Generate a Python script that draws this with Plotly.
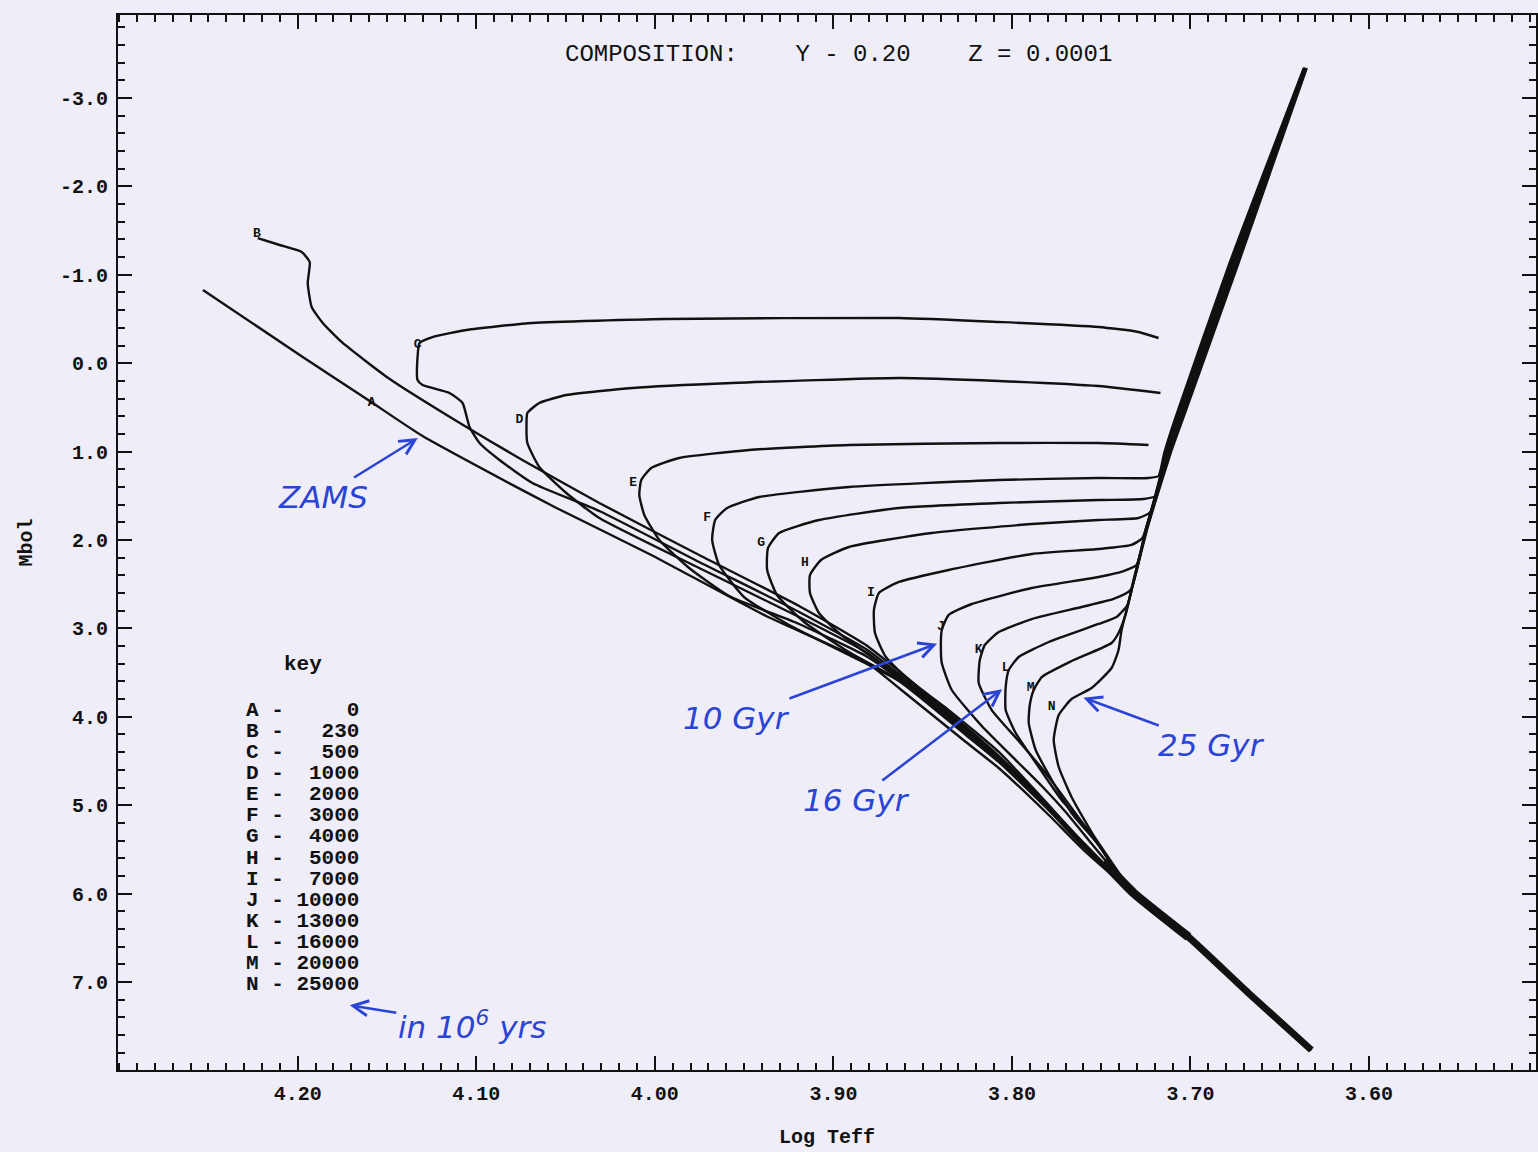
import plotly.graph_objects as go

# ---------------- data (Log Teff, Mbol) ----------------
letters = ["A", "B", "C", "D", "E", "F", "G", "H", "I", "J", "K", "L", "M", "N"]
ages = [0, 230, 500, 1000, 2000, 3000, 4000, 5000, 7000, 10000, 13000, 16000, 20000, 25000]

teff_A = [4.2531, 4.1989, 4.1597, 4.1301, 4.0870, 4.0551, 4.0031, 3.9377, 3.8818, 3.8633, 3.8258, 3.8074, 3.7794, 3.7598]
mbol_A = [-0.828, -0.093, 0.428, 0.824, 1.299, 1.638, 2.158, 2.860, 3.380, 3.674, 4.285, 4.579, 5.111, 5.507]

teff_B = [4.2224, 4.2101, 4.1978, 4.1933, 4.1944, 4.1922, 4.1860, 4.1748, 4.1485, 4.1111, 4.0742, 4.0311, 3.9752, 3.9192, 3.8818, 3.8633, 3.8258, 3.8074, 3.7794, 3.7598]
mbol_B = [-1.416, -1.337, -1.258, -1.145, -0.907, -0.636, -0.455, -0.229, 0.179, 0.654, 1.095, 1.581, 2.170, 2.747, 3.188, 3.482, 4.115, 4.443, 5.009, 5.427]

teff_C = [3.7179, 3.7291, 3.7515, 3.8074, 3.8633, 3.9936, 4.0686, 4.1055, 4.1245, 4.1318, 4.1329, 4.1329, 4.1301, 4.1150, 4.1077, 4.1038, 4.0982, 4.0870, 4.0686, 4.0311, 3.9752, 3.9192, 3.8818, 3.8633, 3.8258, 3.8074, 3.7794, 3.7598]
mbol_C = [-0.285, -0.353, -0.410, -0.466, -0.511, -0.500, -0.455, -0.376, -0.296, -0.229, -0.070, 0.190, 0.247, 0.337, 0.450, 0.722, 0.903, 1.095, 1.355, 1.672, 2.249, 2.814, 3.233, 3.516, 4.138, 4.466, 5.020, 5.439]

teff_D = [3.7168, 3.7515, 3.8074, 3.8633, 3.9567, 4.0126, 4.0496, 4.0647, 4.0714, 4.0719, 4.0714, 4.0647, 4.0496, 4.0311, 3.9752, 3.9192, 3.8818, 3.8633, 3.8258, 3.8074, 3.7794, 3.7598]
mbol_D = [0.337, 0.258, 0.201, 0.167, 0.224, 0.280, 0.360, 0.450, 0.563, 0.722, 0.903, 1.174, 1.468, 1.751, 2.317, 2.871, 3.267, 3.550, 4.161, 4.477, 5.032, 5.450]

teff_E = [3.7235, 3.7515, 3.8074, 3.8913, 3.9472, 3.9864, 4.0020, 4.0076, 4.0087, 4.0059, 3.9975, 3.9808, 3.9584, 3.9192, 3.8818, 3.8633, 3.8258, 3.8074, 3.7794, 3.7598]
mbol_E = [0.925, 0.903, 0.903, 0.925, 0.982, 1.072, 1.185, 1.321, 1.491, 1.717, 2.000, 2.317, 2.633, 2.950, 3.312, 3.572, 4.183, 4.489, 5.043, 5.461]

teff_F = [3.6365, 3.6785, 3.7089, 3.7147, 3.7179, 3.7235, 3.7515, 3.8074, 3.8913, 3.9416, 3.9595, 3.9662, 3.9679, 3.9640, 3.9500, 3.9248, 3.8913, 3.8633, 3.8258, 3.8074, 3.7794, 3.7598]
mbol_F = [-3.339, -1.111, 0.643, 1.016, 1.276, 1.299, 1.299, 1.321, 1.400, 1.514, 1.638, 1.774, 2.000, 2.283, 2.645, 2.961, 3.301, 3.595, 4.206, 4.511, 5.054, 5.473]

teff_G = [3.6363, 3.6779, 3.7084, 3.7143, 3.7196, 3.7263, 3.7515, 3.8074, 3.8633, 3.9081, 3.9304, 3.9366, 3.9371, 3.9316, 3.9164, 3.8913, 3.8633, 3.8258, 3.8074, 3.7794, 3.7598]
mbol_G = [-3.339, -1.111, 0.643, 1.016, 1.502, 1.536, 1.548, 1.581, 1.638, 1.774, 1.921, 2.090, 2.339, 2.622, 2.927, 3.267, 3.584, 4.194, 4.500, 5.054, 5.473]

teff_H = [3.6361, 3.6772, 3.7078, 3.7138, 3.7224, 3.7291, 3.7515, 3.7889, 3.8449, 3.8913, 3.9069, 3.9131, 3.9131, 3.9081, 3.8969, 3.8801, 3.8577, 3.8258, 3.8074, 3.7794, 3.7598]
mbol_H = [-3.339, -1.111, 0.643, 1.016, 1.683, 1.751, 1.774, 1.819, 1.921, 2.079, 2.226, 2.396, 2.599, 2.826, 3.052, 3.301, 3.618, 4.183, 4.489, 5.043, 5.461]

teff_I = [3.6359, 3.6766, 3.7073, 3.7134, 3.7209, 3.7269, 3.7330, 3.7515, 3.7889, 3.8354, 3.8633, 3.8745, 3.8773, 3.8767, 3.8706, 3.8577, 3.8354, 3.8074, 3.7794, 3.7598]
mbol_I = [-3.339, -1.111, 0.643, 1.016, 1.581, 1.977, 2.056, 2.102, 2.158, 2.339, 2.475, 2.599, 2.792, 3.052, 3.324, 3.584, 3.924, 4.398, 4.998, 5.439]

teff_J = [3.6357, 3.6760, 3.7067, 3.7129, 3.7207, 3.7252, 3.7302, 3.7375, 3.7515, 3.7889, 3.8225, 3.8354, 3.8393, 3.8398, 3.8393, 3.8337, 3.8169, 3.7979, 3.7833, 3.7699, 3.7571]
mbol_J = [-3.339, -1.111, 0.643, 1.016, 1.581, 1.887, 2.283, 2.351, 2.418, 2.543, 2.724, 2.848, 3.018, 3.188, 3.392, 3.697, 4.104, 4.489, 4.783, 5.077, 5.394]

teff_K = [3.6355, 3.6754, 3.7061, 3.7125, 3.7205, 3.7250, 3.7336, 3.7431, 3.7610, 3.7889, 3.8074, 3.8152, 3.8180, 3.8186, 3.8113, 3.7962, 3.7811, 3.7699, 3.7543]
mbol_K = [-3.339, -1.111, 0.643, 1.016, 1.581, 1.887, 2.566, 2.667, 2.758, 2.894, 3.041, 3.188, 3.358, 3.618, 3.924, 4.274, 4.636, 4.941, 5.371]

teff_L = [3.6353, 3.6748, 3.7056, 3.7120, 3.7203, 3.7248, 3.7319, 3.7353, 3.7414, 3.7515, 3.7794, 3.7962, 3.8018, 3.8035, 3.8035, 3.7979, 3.7850, 3.7722, 3.7543]
mbol_L = [-3.339, -1.111, 0.643, 1.016, 1.581, 1.887, 2.452, 2.735, 2.871, 2.950, 3.154, 3.324, 3.471, 3.664, 3.924, 4.183, 4.568, 4.941, 5.348]

teff_M = [3.6351, 3.6741, 3.7050, 3.7116, 3.7201, 3.7246, 3.7317, 3.7364, 3.7403, 3.7442, 3.7666, 3.7833, 3.7878, 3.7900, 3.7906, 3.7867, 3.7777, 3.7666, 3.7515]
mbol_M = [-3.339, -1.111, 0.643, 1.016, 1.581, 1.887, 2.452, 2.848, 3.052, 3.165, 3.369, 3.550, 3.697, 3.867, 4.070, 4.376, 4.715, 5.088, 5.450]

teff_N = [3.6349, 3.6735, 3.7045, 3.7111, 3.7199, 3.7244, 3.7315, 3.7386, 3.7403, 3.7442, 3.7554, 3.7666, 3.7738, 3.7766, 3.7738, 3.7666, 3.7571, 3.7459]
mbol_N = [-3.339, -1.111, 0.643, 1.016, 1.581, 1.887, 2.452, 3.018, 3.244, 3.448, 3.674, 3.799, 3.980, 4.262, 4.568, 4.907, 5.247, 5.620]

# lower main sequence shared by all isochrones
teff_lms = [3.7319, 3.7011, 3.6676, 3.6323]
mbol_lms = [5.993, 6.491, 7.124, 7.769]
# where the isochrones have merged into one dense band
teff_band = [3.7487, 3.7319, 3.7011]
mbol_band = [5.642, 5.993, 6.491]

# positions of the isochrone letters
label_teff = [4.1586, 4.2229, 4.1329, 4.0758, 4.0121, 3.9707, 3.9405, 3.9159, 3.8790, 3.8398, 3.8186, 3.8035, 3.7895, 3.7777]
label_mbol = [0.450, -1.462, -0.206, 0.643, 1.355, 1.751, 2.034, 2.260, 2.599, 2.984, 3.244, 3.448, 3.674, 3.889]

x_ticks = [4.2, 4.1, 4.0, 3.9, 3.8, 3.7, 3.6]
y_ticks = [-3, -2, -1, 0, 1, 2, 3, 4, 5, 6, 7]

# ---------------- figure ----------------
BG = "#efedf7"
INK = "#111111"
BLUE = "#2a44d6"
MONO = "Liberation Mono, Courier New, monospace"

iso_teff = [teff_A, teff_B, teff_C, teff_D, teff_E, teff_F, teff_G,
            teff_H, teff_I, teff_J, teff_K, teff_L, teff_M, teff_N]
iso_mbol = [mbol_A, mbol_B, mbol_C, mbol_D, mbol_E, mbol_F, mbol_G,
            mbol_H, mbol_I, mbol_J, mbol_K, mbol_L, mbol_M, mbol_N]

fig = go.Figure()
for t, m in zip(iso_teff, iso_mbol):
    fig.add_trace(go.Scatter(
        x=t + teff_lms, y=m + mbol_lms, mode="lines",
        line=dict(color=INK, width=2.4, shape="spline", smoothing=0.5),
        hoverinfo="skip", showlegend=False))

# dense band where the isochrones overlap
fig.add_trace(go.Scatter(
    x=teff_band, y=mbol_band, mode="lines",
    line=dict(color=INK, width=9, shape="spline", smoothing=0.5),
    hoverinfo="skip", showlegend=False))
fig.add_trace(go.Scatter(
    x=teff_lms, y=mbol_lms, mode="lines",
    line=dict(color=INK, width=7, shape="spline", smoothing=0.5),
    hoverinfo="skip", showlegend=False))

fig.add_trace(go.Scatter(
    x=label_teff, y=label_mbol, mode="text", text=letters,
    textfont=dict(family=MONO, size=13, color=INK, weight="bold"),
    hoverinfo="skip", showlegend=False))

plot_top, plot_bottom, plot_left, plot_right = 15, 1070, 118, 1538
H_PLOT = plot_bottom - plot_top
W_PLOT = plot_right - plot_left

def px(xp):
    return (xp - plot_left) / W_PLOT

def py(yp):
    return (plot_bottom - yp) / H_PLOT

ann = []
ann.append(dict(xref="paper", yref="paper", x=px(840), y=py(55),
                text="COMPOSITION:\u00a0\u00a0\u00a0\u00a0Y\u00a0-\u00a00.20\u00a0\u00a0\u00a0\u00a0Z\u00a0=\u00a00.0001",
                showarrow=False, font=dict(family=MONO, size=24, color=INK),
                xanchor="center", yanchor="middle"))
ann.append(dict(xref="paper", yref="paper", x=px(303), y=py(665), text="key",
                showarrow=False, font=dict(family=MONO, size=21, color=INK, weight="bold"),
                xanchor="center", yanchor="middle"))
for i, (L, a) in enumerate(zip(letters, ages)):
    txt = (L + " - " + f"{a:>5}").replace(" ", "\u00a0")
    ann.append(dict(xref="paper", yref="paper", x=px(244), y=py(710 + i * 21.15),
                    text=txt, showarrow=False,
                    font=dict(family=MONO, size=21, color=INK, weight="bold"),
                    xanchor="left", yanchor="middle"))

# handwritten notes: text with an arrow pointing at the feature
hand = dict(family="DejaVu Sans, sans-serif", size=31, color=BLUE, style="italic")
arrow = dict(showarrow=True, arrowhead=5, arrowsize=1.2, arrowwidth=2.5,
             arrowcolor=BLUE, standoff=2, font=hand)
ann.append(dict(x=4.1318, y=0.835, ax=-97, ay=60, text="ZAMS", **arrow))
ann.append(dict(x=3.8409, y=3.165, ax=-202, ay=75, text="10 Gyr", **arrow))
ann.append(dict(x=3.8046, y=3.674, ax=-147, ay=112, text="16 Gyr", **arrow))
ann.append(dict(x=3.7610, y=3.776, ax=130, ay=48, text="25 Gyr", **arrow))
ann.append(dict(x=4.1720, y=7.260, ax=124, ay=20, text="in 10<sup>6</sup> yrs", **arrow))

x_lo = 4.20 + (298 - plot_left) / 1788.0
x_hi = 4.20 - (plot_right - 298) / 1788.0
y_top = -3.0 + (plot_top - 98) / 88.4
y_bot = -3.0 + (plot_bottom - 98) / 88.4

tickfont = dict(family=MONO, size=20, color=INK, weight="bold")
axis_common = dict(ticks="inside", ticklen=14, tickwidth=2, tickcolor=INK,
                   showline=True, linecolor=INK, linewidth=2, mirror="allticks",
                   showgrid=False, zeroline=False, tickfont=tickfont)

fig.update_layout(
    width=1538, height=1152,
    margin=dict(l=plot_left, r=1538 - plot_right, t=plot_top, b=1152 - plot_bottom),
    paper_bgcolor=BG, plot_bgcolor=BG, showlegend=False,
    annotations=ann,
    xaxis=dict(range=[x_lo, x_hi], tickmode="array", tickvals=x_ticks,
               ticktext=[f"{v:.2f}" for v in x_ticks], ticklabelstandoff=4,
               minor=dict(tickmode="linear", tick0=3.6, dtick=0.01, ticks="inside",
                          ticklen=7, tickwidth=1.5, tickcolor=INK, showgrid=False),
               title=dict(text="Log Teff", standoff=24,
                          font=dict(family=MONO, size=20, color=INK, weight="bold")),
               **axis_common),
    yaxis=dict(range=[y_bot, y_top], tickmode="array", tickvals=y_ticks,
               ticktext=[f"{v:.1f}" for v in y_ticks],
               ticklabelstandoff=4,
               minor=dict(tickmode="linear", tick0=0, dtick=0.2, ticks="inside",
                          ticklen=7, tickwidth=1.5, tickcolor=INK, showgrid=False),
               title=dict(text="Mbol", standoff=22,
                          font=dict(family=MONO, size=20, color=INK, weight="bold")),
               **axis_common),
)

fig.write_html("out.html")
